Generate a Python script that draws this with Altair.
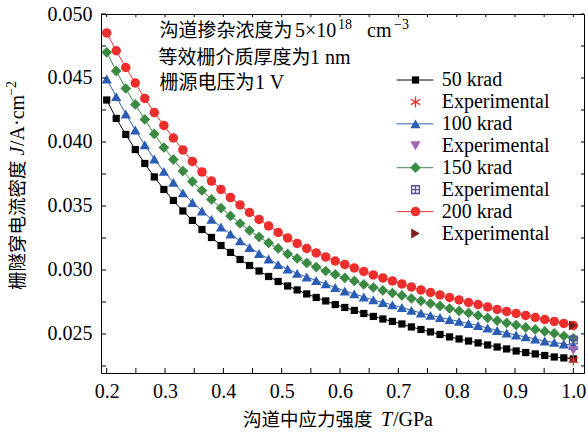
import altair as alt
import pandas as pd

# ---------------- data ----------------
stress = [0.2000, 0.2163, 0.2327, 0.2490, 0.2653, 0.2816, 0.2980, 0.3143, 0.3306, 0.3469,
          0.3633, 0.3796, 0.3959, 0.4122, 0.4286, 0.4449, 0.4612, 0.4776, 0.4939, 0.5102,
          0.5265, 0.5429, 0.5592, 0.5755, 0.5918, 0.6082, 0.6245, 0.6408, 0.6571, 0.6735,
          0.6898, 0.7061, 0.7224, 0.7388, 0.7551, 0.7714, 0.7878, 0.8041, 0.8204, 0.8367,
          0.8531, 0.8694, 0.8857, 0.9020, 0.9184, 0.9347, 0.9510, 0.9673, 0.9837, 1.0000]

j_50 = [0.04328, 0.04184, 0.04059, 0.03941, 0.03832, 0.03727, 0.03629, 0.03543, 0.03461, 0.03387,
        0.03316, 0.03254, 0.03191, 0.03137, 0.03082, 0.03035, 0.02992, 0.02949, 0.02910, 0.02875,
        0.02844, 0.02813, 0.02785, 0.02758, 0.02730, 0.02707, 0.02684, 0.02660, 0.02637, 0.02617,
        0.02598, 0.02578, 0.02555, 0.02535, 0.02516, 0.02496, 0.02477, 0.02461, 0.02445, 0.02430,
        0.02414, 0.02398, 0.02383, 0.02367, 0.02355, 0.02344, 0.02332, 0.02320, 0.02313, 0.02305]
j_100 = [0.04492, 0.04354, 0.04219, 0.04094, 0.03977, 0.03867, 0.03770, 0.03684, 0.03602, 0.03527,
         0.03461, 0.03395, 0.03336, 0.03281, 0.03227, 0.03176, 0.03129, 0.03086, 0.03043, 0.03008,
         0.02973, 0.02945, 0.02918, 0.02891, 0.02863, 0.02836, 0.02813, 0.02789, 0.02766, 0.02746,
         0.02727, 0.02707, 0.02684, 0.02664, 0.02645, 0.02629, 0.02613, 0.02598, 0.02582, 0.02566,
         0.02547, 0.02527, 0.02508, 0.02492, 0.02477, 0.02461, 0.02445, 0.02434, 0.02422, 0.02410]
j_150 = [0.04701, 0.04555, 0.04418, 0.04293, 0.04176, 0.04063, 0.03957, 0.03863, 0.03773, 0.03691,
         0.03621, 0.03551, 0.03484, 0.03422, 0.03363, 0.03309, 0.03258, 0.03211, 0.03168, 0.03125,
         0.03090, 0.03055, 0.03023, 0.02992, 0.02965, 0.02938, 0.02914, 0.02887, 0.02863, 0.02840,
         0.02820, 0.02801, 0.02777, 0.02758, 0.02738, 0.02719, 0.02699, 0.02680, 0.02664, 0.02645,
         0.02625, 0.02605, 0.02586, 0.02570, 0.02551, 0.02535, 0.02520, 0.02504, 0.02484, 0.02465]
j_200 = [0.04852, 0.04713, 0.04582, 0.04461, 0.04340, 0.04230, 0.04129, 0.04031, 0.03938, 0.03848,
         0.03766, 0.03695, 0.03629, 0.03566, 0.03508, 0.03449, 0.03395, 0.03344, 0.03293, 0.03250,
         0.03207, 0.03168, 0.03133, 0.03102, 0.03070, 0.03043, 0.03016, 0.02988, 0.02961, 0.02938,
         0.02914, 0.02891, 0.02867, 0.02844, 0.02824, 0.02805, 0.02785, 0.02766, 0.02746, 0.02730,
         0.02711, 0.02691, 0.02676, 0.02660, 0.02645, 0.02629, 0.02613, 0.02598, 0.02582, 0.02566]

series_names = ["50 krad", "100 krad", "150 krad", "200 krad"]
exp_keys = ["exp 50", "exp 100", "exp 150", "exp 200"]
exp_stress = [1.0, 1.0, 1.0, 1.0]
exp_j = [0.02297, 0.02371, 0.02453, 0.02566]
exp_label = "Experimental"

x_major = [0.2, 0.3, 0.4, 0.5, 0.6, 0.7, 0.8, 0.9, 1.0]
x_minor = [0.25, 0.35, 0.45, 0.55, 0.65, 0.75, 0.85, 0.95]
y_major = [0.025, 0.030, 0.035, 0.040, 0.045, 0.050]
y_minor = [0.0225, 0.0275, 0.0325, 0.0375, 0.0425, 0.0475]

# ---------------- styling ----------------
W, H = 483, 359
SERIF = "Liberation Serif, Times New Roman, Times, serif"
CJK = "Noto Sans CJK SC"

ASTERISK = "M0,-1L0,1M-0.866,-0.5L0.866,0.5M-0.866,0.5L0.866,-0.5"
SQPLUS = "M-1,-1L1,-1L1,1L-1,1ZM0,-1L0,1M-1,0L1,0"

# per series: colour, shape, size, filled
model_style = {
    "50 krad": ("#000000", "square", 52, True),
    "100 krad": ("#2c5db5", "triangle-up", 105, True),
    "150 krad": ("#3a8a44", "diamond", 115, True),
    "200 krad": ("#ee2d2d", "circle", 90, True),
}
exp_style = {
    "exp 50": ("#ee2d2d", ASTERISK, 120, False),
    "exp 100": ("#a062b4", "triangle-down", 105, True),
    "exp 150": ("#5b4ab2", SQPLUS, 60, False),
    "exp 200": ("#7b1c1c", "triangle-right", 100, True),
}

xs = alt.Scale(domain=[0.1902, 1.0183], nice=False, zero=False)
ys = alt.Scale(domain=[0.02195, 0.050], nice=False, zero=False)
xaxis = alt.Axis(values=x_major, format=".1f", ticks=False, domain=False, grid=False,
                 labelFlush=False, labelOverlap=False, labelPadding=8, title=None,
                 labelFont=SERIF, labelFontSize=20, labelColor="black")
yaxis = alt.Axis(values=y_major, format=".3f", ticks=False, domain=False, grid=False,
                 labelFlush=False, labelOverlap=False, labelPadding=9, title=None,
                 labelFont=SERIF, labelFontSize=20, labelColor="black")
X = alt.X("x:Q", scale=xs, axis=xaxis)
Y = alt.Y("y:Q", scale=ys, axis=yaxis)


def sym(df, style, x=None, y=None):
    color, shape, size, filled = style
    if filled:
        m = alt.Chart(df).mark_point(filled=True, opacity=1, shape=shape, size=size, color=color)
    else:
        m = alt.Chart(df).mark_point(filled=False, opacity=1, shape=shape, size=size,
                                     color=color, strokeWidth=1.3)
    return m.encode(x=x if x is not None else X, y=y if y is not None else Y)


# ---------------- main layers ----------------
main_layers = []
for name, vals in zip(series_names, [j_50, j_100, j_150, j_200]):
    df = pd.DataFrame({"x": stress, "y": vals})
    color = model_style[name][0]
    main_layers.append(alt.Chart(df).mark_line(strokeWidth=1, color=color).encode(x=X, y=Y))
    main_layers.append(sym(df, model_style[name]))

for k, xv, yv in zip(exp_keys, exp_stress, exp_j):
    main_layers.append(sym(pd.DataFrame({"x": [xv], "y": [yv]}), exp_style[k]))

xt = pd.DataFrame({"x": x_major + x_minor})
yt = pd.DataFrame({"y": y_major + y_minor})
main_layers += [
    alt.Chart(xt).mark_rule(color="black", strokeWidth=1).encode(x=X, y=alt.value(H), y2=alt.value(H - 5)),
    alt.Chart(xt).mark_rule(color="black", strokeWidth=1).encode(x=X, y=alt.value(0), y2=alt.value(3)),
    alt.Chart(yt).mark_rule(color="black", strokeWidth=1).encode(y=Y, x=alt.value(0), x2=alt.value(5)),
    alt.Chart(yt).mark_rule(color="black", strokeWidth=1).encode(y=Y, x=alt.value(W), x2=alt.value(W - 3)),
]


def txt(s, x, y, size=20, font=SERIF, style="normal", angle=0, align="left"):
    return alt.Chart(pd.DataFrame({"t": [s]})).mark_text(
        align=align, baseline="middle", font=font, fontSize=size, fontStyle=style,
        angle=angle, color="black"
    ).encode(x=alt.value(x), y=alt.value(y), text="t:N")


main_layers += [
    # annotation block
    txt("沟道掺杂浓度为", 58.5, 16.5, size=19, font=CJK),
    txt("5×10", 194, 16.5),
    txt("18", 237, 11, size=14),
    txt("cm", 266, 16.5),
    txt("−3", 293, 11, size=14),
    txt("等效栅介质厚度为", 57.5, 43.5, size=19, font=CJK),
    txt("1 nm", 209, 43.5),
    txt("栅源电压为", 58.5, 68.5, size=19, font=CJK),
    txt("1 V", 154, 68.5),
    # x title
    txt("沟道中应力强度", 142, 406, size=18.5, font=CJK),
    txt("T", 280, 406, style="italic"),
    txt("/GPa", 292, 406),
    # y title
    txt("栅隧穿电流密度", -83, 276, size=18.5, font=CJK, angle=270),
    txt("J", -83, 141.5, style="italic", angle=270),
    txt("/A·cm", -83, 132, angle=270),
    txt("−2", -89, 82, size=14, angle=270),
]

main = alt.layer(*main_layers)

# ---------------- legend ----------------
leg_keys = [series_names[0], exp_keys[0], series_names[1], exp_keys[1],
            series_names[2], exp_keys[2], series_names[3], exp_keys[3]]
leg_labels = [series_names[0], exp_label, series_names[1], exp_label,
              series_names[2], exp_label, series_names[3], exp_label]
df_leg = pd.DataFrame({"row": list(range(8)), "key": leg_keys, "label": leg_labels})
LY = alt.Y("row:Q", scale=alt.Scale(domain=[0, 7], range=[66, 219.5]), axis=None)

leg_layers = []
all_style = {**model_style, **exp_style}
for r, k in enumerate(leg_keys):
    d = df_leg[df_leg["row"] == r]
    if k in model_style:
        leg_layers.append(alt.Chart(d).mark_rule(strokeWidth=1, color=model_style[k][0]).encode(
            x=alt.value(295.7), x2=alt.value(332.3), y=LY))
    leg_layers.append(sym(d, all_style[k], x=alt.value(314.5), y=LY))
leg_layers.append(alt.Chart(df_leg).mark_text(align="left", baseline="middle", font=SERIF, fontSize=20,
                                              color="black").encode(x=alt.value(340.7), y=LY, text="label:N"))
legend = alt.layer(*leg_layers)

chart = alt.layer(main, legend).resolve_scale(y="independent").properties(
    width=W, height=H,
    padding={"left": 101, "top": 14, "right": 4, "bottom": 61},
    autosize=alt.AutoSizeParams(type="none"),
    background="white",
).configure_view(stroke="black", strokeWidth=1)

chart.save("out.html", embed_options={"renderer": "svg", "actions": False})
